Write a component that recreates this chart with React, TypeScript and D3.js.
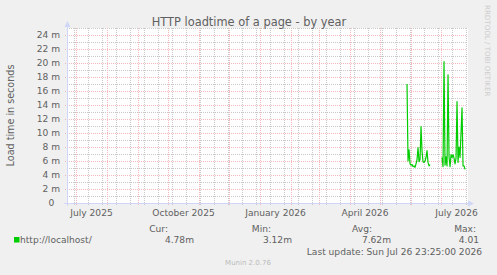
import React from "react";
import * as d3 from "d3";

const W = 497;
const H = 275;

const title = "HTTP loadtime of a page - by year";
const yAxisTitle = "Load time in seconds";
const seriesName = "http://localhost/";
const seriesColor = "#00cc00";

const endTime = Date.UTC(2026, 6, 26, 23, 25);
const rangeDays = 400;

// daily values (milliseconds of load time shown as "m")
const seg1Start = [2026, 4, 28];
const seg1Values = [17.0, 6.0, 7.6, 5.6, 5.4, 5.5, 5.2, 5.3, 5.1, 5.6, 6.2, 7.9, 5.9, 6.2, 10.9, 7.4, 5.9, 5.8, 6.0, 6.5, 7.5, 5.8, 5.3, 5.5];
const seg2Start = [2026, 6, 2];
const seg2Values = [6.5, 5.2, 20.2, 5.4, 6.6, 5.3, 18.3, 6.6, 5.2, 6.9, 6.5, 6.9, 6.4, 5.6, 6.4, 14.5, 5.8, 8.0, 6.5, 10.0, 13.6, 5.3, 5.3, 4.8];

const yTickValues = [0, 2, 4, 6, 8, 10, 12, 14, 16, 18, 20, 22, 24];
const yTickLabels = ["0\u00a0\u00a0", "2 m", "4 m", "6 m", "8 m", "10 m", "12 m", "14 m", "16 m", "18 m", "20 m", "22 m", "24 m"];
const xLabelMonths = [[2025, 6], [2025, 9], [2026, 0], [2026, 3], [2026, 6]];
const xLabelTexts = ["July 2025", "October 2025", "January 2026", "April 2026", "July 2026"];

const legendHeaders = ["Cur:", "Min:", "Avg:", "Max:"];
const legendValues = ["4.78m", "3.12m", "7.62m", "4.01"];
const lastUpdate = "Last update: Sun Jul 26 23:25:00 2026";
const version = "Munin 2.0.76";
const watermark = "RRDTOOL / TOBI OETIKER";

const DAY = 86400000;

function buildSeries(start: number[], vals: number[]) {
  return vals.map((v, i) => ({ t: Date.UTC(start[0], start[1], start[2] + i), v }));
}

export default function App() {
  const left = 67, right = 467, top = 28, bottom = 203;
  const x = d3.scaleUtc().domain([new Date(endTime - rangeDays * DAY), new Date(endTime)]).range([left, right]);
  const y = d3.scaleLinear().domain([0, 25]).range([bottom, top]);

  const data = [
    ...buildSeries(seg1Start, seg1Values),
    { t: NaN, v: NaN },
    ...buildSeries(seg2Start, seg2Values),
  ];
  const line = d3
    .line<{ t: number; v: number }>()
    .defined((d) => !isNaN(d.v))
    .x((d) => x(new Date(d.t)))
    .y((d) => y(d.v));

  const [d0, d1] = x.domain();
  const months = d3.utcMonth.range(d3.utcMonth.ceil(d0), d1);
  const minorLines: Date[] = [];
  for (let t = Date.UTC(2025, 5, 29); t <= d1.getTime(); t += 14 * DAY) {
    if (t >= d0.getTime()) minorLines.push(new Date(t));
  }
  const hMinor = d3.range(1, 26, 2);
  const hMajor = yTickValues;

  const font = "'DejaVu Sans', sans-serif";
  const fc = "#606060";
  const gridMinor = "#c8c8c8";
  const gridMajor = "#f2baba";
  const axisColor = "#cfd6f8";

  const legendRight = [168, 271, 372, 476];
  const valueRight = [194, 292, 391, 479];

  return (
    <svg width={W} height={H} style={{ position: "absolute", left: 0, top: 0 }} xmlns="http://www.w3.org/2000/svg">
      <rect x={0} y={0} width={W} height={H} fill="#f0f0f0" />
      <rect x={left} y={top} width={right - left + 1} height={bottom - top} fill="#ffffff" />
      {hMinor.map((v) => (
        <line key={"hm" + v} x1={left} x2={right} y1={Math.round(y(v)) + 0.5} y2={Math.round(y(v)) + 0.5} stroke={gridMinor} strokeDasharray="1,1" />
      ))}
      {minorLines.map((d, i) => (
        <line key={"vm" + i} x1={Math.round(x(d)) + 0.5} x2={Math.round(x(d)) + 0.5} y1={top} y2={bottom + 2} stroke={gridMinor} strokeDasharray="1,1" />
      ))}
      {hMajor.map((v) => (
        <line key={"hM" + v} x1={left - 2} x2={right} y1={Math.round(y(v)) + 0.5} y2={Math.round(y(v)) + 0.5} stroke={gridMajor} strokeDasharray="1,1" />
      ))}
      {months.map((d, i) => (
        <line key={"vM" + i} x1={Math.round(x(d)) + 0.5} x2={Math.round(x(d)) + 0.5} y1={top} y2={bottom + 3} stroke={gridMajor} strokeDasharray="1,1" />
      ))}
      <line x1={left - 3} x2={right + 2} y1={bottom + 0.5} y2={bottom + 0.5} stroke={axisColor} />
      <line x1={left + 0.5} x2={left + 0.5} y1={bottom + 3} y2={top - 4} stroke={axisColor} />
      <path d={`M${left + 0.5},${top - 7} L${left - 2.5},${top - 1} L${left + 3.5},${top - 1} Z`} fill={axisColor} />
      <path d={`M${right + 7},${bottom + 0.5} L${right + 1},${bottom - 2.5} L${right + 1},${bottom + 3.5} Z`} fill={axisColor} />
      <path d={line(data) || ""} fill="none" stroke={seriesColor} strokeWidth={1.2} strokeLinejoin="round" />
      <text x={249} y={26} textAnchor="middle" fontFamily={font} fontSize={11.4} fill={fc}>{title}</text>
      {yTickValues.map((v, i) => (
        <text key={"yl" + v} x={60} y={y(v)} dy="0.36em" textAnchor="end" fontFamily={font} fontSize={9.1} fill={fc} xmlSpace="preserve">{yTickLabels[i]}</text>
      ))}
      <text transform={`translate(14,${(top + bottom) / 2}) rotate(-90)`} textAnchor="middle" fontFamily={font} fontSize={9.6} fill={fc}>{yAxisTitle}</text>
      {xLabelMonths.map((m, i) => {
        const a = Date.UTC(m[0], m[1], 1);
        const b = Date.UTC(m[0], m[1] + 1, 1);
        const cx = x(new Date((a + b) / 2));
        return (
          <text key={"xl" + i} x={cx} y={216} textAnchor="middle" fontFamily={font} fontSize={9.1} fill={fc}>{xLabelTexts[i]}</text>
        );
      })}
      {legendHeaders.map((h, i) => (
        <text key={"lh" + i} x={legendRight[i]} y={231.5} textAnchor="end" fontFamily={font} fontSize={9.1} fill={fc}>{h}</text>
      ))}
      <rect x={14} y={237} width={5.5} height={5.5} fill={seriesColor} />
      <text x={20} y={242.7} fontFamily={font} fontSize={9.1} fill={fc}>{seriesName}</text>
      {legendValues.map((h, i) => (
        <text key={"lv" + i} x={valueRight[i]} y={242.7} textAnchor="end" fontFamily={font} fontSize={9.1} fill={fc}>{h}</text>
      ))}
      <text x={482} y={255} textAnchor="end" fontFamily={font} fontSize={9.1} fill={fc}>{lastUpdate}</text>
      <text x={248} y={265} textAnchor="middle" fontFamily={font} fontSize={7} fill="#bbbbbb">{version}</text>
      <text transform={`translate(485,5) rotate(90)`} textAnchor="start" fontFamily={font} fontSize={7.1} fill="#cccccc">{watermark}</text>
    </svg>
  );
}
